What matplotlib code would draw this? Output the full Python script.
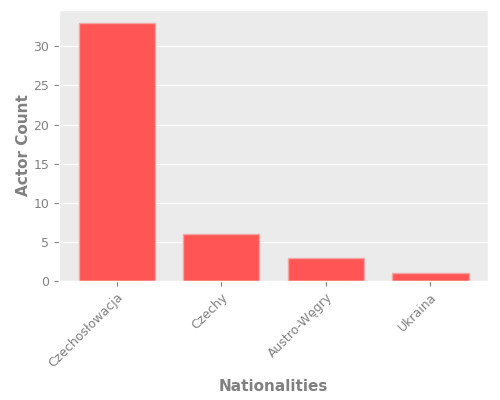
import matplotlib
matplotlib.use("Agg")
import matplotlib.pyplot as plt

nationalities = ["Czechosłowacja", "Czechy", "Austro-Węgry", "Ukraina"]
actor_counts = [33, 6, 3, 1]

plt.style.use("ggplot")
fig, ax = plt.subplots(figsize=(5, 4), dpi=100)
ax.set_facecolor("#EBEBEB")
ax.bar(nationalities, actor_counts, width=0.73, color="#FF5555",
       edgecolor="#F4A6A6", linewidth=1)

ax.set_xlabel("Nationalities", fontsize=11, fontweight="bold", color="#808080", labelpad=6)
ax.set_ylabel("Actor Count", fontsize=11, fontweight="bold", color="#808080", labelpad=1.5)
ax.tick_params(axis="both", labelsize=9, colors="#808080")
ax.grid(axis="x", visible=False)
plt.setp(ax.get_xticklabels(), rotation=45, ha="right", rotation_mode="anchor")

fig.subplots_adjust(left=0.118, right=0.976, top=0.975, bottom=0.2975)
fig.savefig("out.png")
